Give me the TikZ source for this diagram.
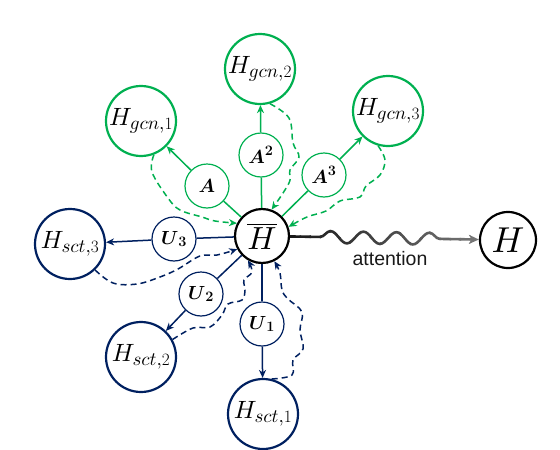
\documentclass[tikz,border=0pt]{standalone}
\usepackage{amsmath}
\usepackage{fontspec}
\DeclareFontShape{OML}{cmm}{m}{it}{<->cmmi10}{\skewchar\font'177}
\DeclareFontShape{OML}{cmm}{b}{it}{<->cmmib10}{\skewchar\font'177}
\DeclareFontShape{OMS}{cmsy}{m}{n}{<->cmsy10}{\skewchar\font'60}
\DeclareFontShape{OMS}{cmsy}{b}{n}{<->cmbsy10}{\skewchar\font'60}
\DeclareMathSizes{25}{25}{19}{15}
\DeclareMathSizes{19}{19}{14}{11}
\newfontfamily\arialfont{Liberation Sans}
\usetikzlibrary{arrows.meta,decorations.pathmorphing}
\definecolor{gcn}{RGB}{0,176,80}
\definecolor{sct}{RGB}{0,32,96}
\tikzset{
  bigg/.style={circle,draw=gcn,line width=2.2pt,minimum size=70pt,inner sep=0pt,font=\fontsize{25}{30}\selectfont},
  bigs/.style={circle,draw=sct,line width=2.2pt,minimum size=70pt,inner sep=0pt,font=\fontsize{25}{30}\selectfont},
  smallg/.style={circle,draw=gcn,line width=1.2pt,minimum size=44pt,inner sep=0pt,font=\fontsize{19}{22}\selectfont},
  smalls/.style={circle,draw=sct,line width=1.2pt,minimum size=44pt,inner sep=0pt,font=\fontsize{19}{22}\selectfont},
  center/.style={circle,draw=black,line width=2.2pt,minimum size=54pt,inner sep=0pt,font=\fontsize{32}{36}\selectfont},
  tip/.style={-{Stealth[length=8pt,width=7pt,inset=2.5pt]}},
  solidg/.style={draw=gcn,line width=1.5pt},
  solids/.style={draw=sct,line width=1.5pt},
  dashg/.style={draw=gcn,line width=1.5pt,dash pattern=on 6pt off 4pt,tip},
  dashs/.style={draw=sct,line width=1.5pt,dash pattern=on 6pt off 4pt,tip},
}
\begin{document}
\begin{tikzpicture}[x=1pt,y=-1pt]
\useasboundingbox (0,0) rectangle (560,450);
% nodes
\node[center] (hbar) at (262,236) {$\overline{H}$};
\node[circle,draw=black,line width=2.2pt,minimum size=56pt,inner sep=0pt,font=\fontsize{36}{40}\selectfont] (h) at (508,240) {$H$};
\node[bigg] (hg1) at (141,121) {$H_{gcn,1}$};
\node[bigg] (hg2) at (260,69) {$H_{gcn,2}$};
\node[bigg] (hg3) at (388,111) {$H_{gcn,3}$};
\node[bigs] (hs3) at (70,244) {$H_{sct,3}$};
\node[bigs] (hs2) at (141,357) {$H_{sct,2}$};
\node[bigs] (hs1) at (263,414) {$H_{sct,1}$};
\node[smallg] (a1) at (207,186) {$\boldsymbol{A}$};
\node[smallg] (a2) at (261,155) {$\boldsymbol{A}^{\boldsymbol{2}}$};
\node[smallg] (a3) at (324,175) {$\boldsymbol{A}^{\boldsymbol{3}}$};
\node[smalls] (u3) at (174,239) {$\boldsymbol{U}_{\boldsymbol{3}}$};
\node[smalls] (u2) at (201,294) {$\boldsymbol{U}_{\boldsymbol{2}}$};
\node[smalls] (u1) at (262,324) {$\boldsymbol{U}_{\boldsymbol{1}}$};
% solid connectors
\draw[solidg] (hbar) -- (a1);
\draw[solidg,tip] (a1) -- (hg1);
\draw[solidg] (hbar) -- (a2);
\draw[solidg,tip] (a2) -- (hg2);
\draw[solidg] (hbar) -- (a3);
\draw[solidg,tip] (a3) -- (hg3);
\draw[solids] (hbar) -- (u3);
\draw[solids,tip] (u3) -- (hs3);
\draw[solids] (hbar) -- (u2);
\draw[solids,tip] (u2) -- (hs2);
\draw[solids] (hbar) -- (u1);
\draw[solids,tip] (u1) -- (hs1);
% dashed feedback
\draw[dashg] plot[smooth,tension=0.6] coordinates {(hg1.-69) (152,172) (168,198) (180,210) (202,217) (215,221) (hbar.153)};
\draw[dashg] plot[smooth,tension=0.6] coordinates {(hg2.-74) (289,118) (293,143) (299,157) (290,170) (289,183) (hbar.70)};
\draw[dashg] plot[smooth,tension=0.6] coordinates {(hg3.-106) (385,160) (380,175) (366,186) (360,197) (340,201) (326,211) (307,217) (hbar.19)};
\draw[dashs] plot[smooth,tension=0.6] coordinates {(hs3.-46) (113,283) (137,284) (160,277) (178,269) (200,256) (217,255) (hbar.208)};
\draw[dashs] plot[smooth,tension=0.6] coordinates {(hs2.29) (193,328) (210,327) (222,315) (228,304) (242,300) (245,290) (244,280) (252,272) (hbar.240)};
\draw[dashs] plot[smooth,tension=0.6] coordinates {(hs1.76) (292,375) (293,360) (303,349) (300,330) (302,312) (288,299) (282,290) (280,273) (hbar.296)};
% attention arrow with gradient
\foreach \i in {0,...,19}{
  \pgfmathsetmacro{\pct}{90-2*\i}
  \begin{scope}
    \clip (290+\i*10-0.5,200) rectangle (301+\i*10,280);
    \draw[black!\pct,line width=2.6pt,-{Stealth[length=10pt,width=9pt,inset=3pt]},
      decorate,decoration={snake,amplitude=6pt,segment length=33pt,pre length=30pt,post length=32pt}]
      (hbar) -- (h);
  \end{scope}
}
\node[font=\arialfont\fontsize{19.5}{22}\selectfont,text=black!90] (att) at (390,259) {attention};
\end{tikzpicture}
\end{document}
